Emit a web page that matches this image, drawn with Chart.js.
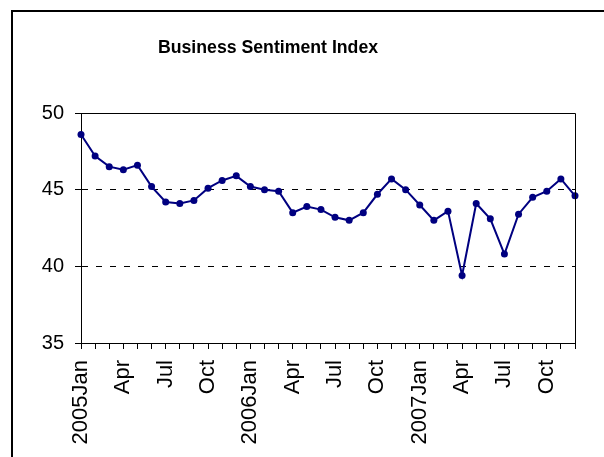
<!DOCTYPE html>
<html>
<head>
<meta charset="utf-8">
<script src="https://cdn.jsdelivr.net/npm/chart.js@4"></script>
<style>
  html, body { margin: 0; padding: 0; background: #fff; }
  #wrap { width: 604px; height: 457px; }
</style>
</head>
<body>
<div id="wrap"><canvas id="sentimentChart" width="604" height="457"></canvas></div>
<script>
const meses = [
  '2005Jan', 'Feb', 'Mar', 'Apr', 'May', 'Jun', 'Jul', 'Aug', 'Sep', 'Oct', 'Nov', 'Dec',
  '2006Jan', 'Feb', 'Mar', 'Apr', 'May', 'Jun', 'Jul', 'Aug', 'Sep', 'Oct', 'Nov', 'Dec',
  '2007Jan', 'Feb', 'Mar', 'Apr', 'May', 'Jun', 'Jul', 'Aug', 'Sep', 'Oct', 'Nov', 'Dec'
];
const indice = [
  48.6, 47.2, 46.5, 46.3, 46.6, 45.2, 44.2, 44.1, 44.3, 45.1, 45.6, 45.9,
  45.2, 45.0, 44.9, 43.5, 43.9, 43.7, 43.2, 43.0, 43.5, 44.7, 45.7, 45.0,
  44.0, 43.0, 43.6, 39.4, 44.1, 43.1, 40.8, 43.4, 44.5, 44.9, 45.7, 44.6
];
const escalaY = { min: 35, max: 50, passo: 5 };
const titulo = 'Business Sentiment Index';

// moldura externa, título e borda superior/direita da área do gráfico
const molduraPlugin = {
  id: 'moldura',
  afterDraw(chart) {
    const ctx = chart.ctx;
    const area = chart.chartArea;
    ctx.save();
    ctx.strokeStyle = '#000';
    ctx.lineWidth = 2;
    ctx.beginPath();
    ctx.moveTo(12, 460);
    ctx.lineTo(12, 11);
    ctx.lineTo(610, 11);
    ctx.stroke();

    ctx.lineWidth = 1;
    ctx.beginPath();
    ctx.moveTo(area.left, Math.round(area.top) + 0.5);
    ctx.lineTo(Math.round(area.right) + 0.5, Math.round(area.top) + 0.5);
    ctx.lineTo(Math.round(area.right) + 0.5, area.bottom);
    ctx.stroke();

    ctx.fillStyle = '#000';
    ctx.font = 'bold 17.7px "Liberation Sans", Arial, sans-serif';
    ctx.textAlign = 'center';
    ctx.textBaseline = 'middle';
    ctx.fillText(titulo, 268, 48);
    ctx.restore();
  }
};

function gerarGrafico() {
  const ctx = document.getElementById('sentimentChart').getContext('2d');
  new Chart(ctx, {
    type: 'line',
    data: {
      labels: meses,
      datasets: [{
        label: titulo,
        data: indice,
        borderColor: '#000080',
        backgroundColor: '#000080',
        borderWidth: 2,
        pointRadius: 3.5,
        pointBorderWidth: 0,
        pointBackgroundColor: '#000080',
        tension: 0
      }]
    },
    options: {
      responsive: false,
      animation: false,
      layout: { padding: { left: 0, right: 29, top: 113, bottom: 0 } },
      plugins: {
        legend: { display: false },
        title: { display: false },
        tooltip: { enabled: false }
      },
      scales: {
        x: {
          offset: false,
          afterFit: (scale) => {
            scale.height = 114;
            scale.paddingLeft = 0;
            scale.paddingRight = 0;
          },
          grid: {
            drawOnChartArea: false,
            drawTicks: true,
            tickLength: 6,
            tickColor: '#000',
            tickWidth: 1
          },
          border: { display: true, color: '#000', width: 1 },
          ticks: {
            autoSkip: false,
            maxRotation: 90,
            minRotation: 90,
            padding: 11,
            color: '#000',
            font: { family: '"Liberation Sans", Arial, sans-serif', size: 22 },
            callback: function(valor, i) {
              return i % 3 === 0 ? meses[i] : '';
            }
          }
        },
        y: {
          min: escalaY.min,
          max: escalaY.max,
          afterFit: (scale) => { scale.width = 81; },
          grid: {
            drawTicks: true,
            tickLength: 6,
            tickColor: '#000',
            lineWidth: 1,
            color: (c) => {
              const v = c.tick ? c.tick.value : null;
              return (v === escalaY.min || v === escalaY.max) ? 'rgba(0,0,0,0)' : '#000';
            }
          },
          border: { display: true, color: '#000', width: 1, dash: [6, 8] },
          ticks: {
            stepSize: escalaY.passo,
            padding: 11,
            color: '#000',
            font: { family: '"Liberation Sans", Arial, sans-serif', size: 20 }
          }
        }
      }
    },
    plugins: [molduraPlugin]
  });
}

window.onload = gerarGrafico;
</script>
</body>
</html>
